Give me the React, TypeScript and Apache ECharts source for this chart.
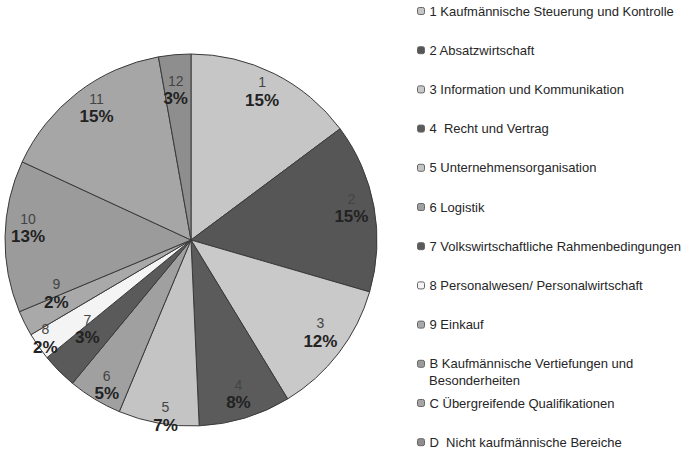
import React, { useEffect, useRef } from 'react';
import * as echarts from 'echarts';

// Legend categories (item 10 wraps onto a second line in the reference)
const categories = [
  '1 Kaufmännische Steuerung und Kontrolle',
  '2 Absatzwirtschaft',
  '3 Information und Kommunikation',
  '4  Recht und Vertrag',
  '5 Unternehmensorganisation',
  '6 Logistik',
  '7 Volkswirtschaftliche Rahmenbedingungen',
  '8 Personalwesen/ Personalwirtschaft',
  '9 Einkauf',
  'B Kaufmännische Vertiefungen und\nBesonderheiten',
  'C Übergreifende Qualifikationen',
  'D  Nicht kaufmännische Bereiche',
];

// Slice numbers shown inside the pie
const sliceLabels = ['1', '2', '3', '4', '5', '6', '7', '8', '9', '10', '11', '12'];

// Shares (percent); rounded they give the printed labels
const values = [14.8, 14.7, 11.8, 8.0, 7.0, 4.7, 3.1, 2.4, 2.2, 13.2, 15.3, 2.8];

const colors = [
  '#c6c6c6', '#565656', '#c9c9c9', '#5b5b5b', '#c4c4c4', '#a0a0a0',
  '#5a5a5a', '#f4f4f4', '#a9a9a9', '#9b9b9b', '#a6a6a6', '#8e8e8e',
];

// Small nudges of the in-slice labels (style only), as in the reference's best-fit placement
const labelNudges: [number, number][] = [
  [-2, -3], [0, -3], [0, -7], [0, -2], [3, 16], [0, 5],
  [12, -26], [-12, 5], [11, -20], [0, -9], [5, -3], [-1, 12],
];

const FONT = 'Arial, "Liberation Sans", Helvetica, sans-serif';

export default function App() {
  const ref = useRef<HTMLDivElement>(null);

  useEffect(() => {
    if (!ref.current) return;
    const chart = echarts.init(ref.current, undefined, { renderer: 'svg' });
    const center = [191, 240];
    const R = 186;

    const pieData = categories.map((name, i) => ({
      name,
      value: values[i],
      itemStyle: { color: colors[i] },
    }));
    const labelData = sliceLabels.map((name, i) => ({
      name,
      value: values[i],
      label: { offset: labelNudges[i] },
    }));

    const secondLine = categories
      .filter((c) => c.includes('\n'))
      .map((c) => c.split('\n')[1]);

    chart.setOption({
      animation: false,
      backgroundColor: '#ffffff',
      legend: {
        orient: 'vertical',
        left: 417,
        top: 4,
        padding: 0,
        itemGap: 25.2,
        itemWidth: 7,
        itemHeight: 7,
        icon: 'roundRect',
        selectedMode: false,
        data: categories,
        itemStyle: { borderColor: '#666', borderWidth: 1 },
        textStyle: {
          fontFamily: FONT,
          fontSize: 13,
          color: '#262626',
          lineHeight: 14,
        },
        formatter: (name: string) => name.split('\n')[0],
      },
      graphic: secondLine.map((t) => ({
        type: 'text',
        x: 429,
        y: 380,
        silent: true,
        style: {
          text: t,
          fontFamily: FONT,
          fontSize: 13,
          fill: '#262626',
          verticalAlign: 'middle',
        },
      })),
      series: [
        {
          type: 'pie',
          center,
          radius: [0, R],
          startAngle: 90,
          clockwise: true,
          avoidLabelOverlap: false,
          label: { show: false },
          labelLine: { show: false },
          emphasis: { disabled: true },
          itemStyle: { borderColor: '#3a3a3a', borderWidth: 1 },
          data: pieData,
          z: 2,
        },
        {
          type: 'pie',
          center,
          radius: [134, R],
          startAngle: 90,
          clockwise: true,
          silent: true,
          legendHoverLink: false,
          avoidLabelOverlap: false,
          itemStyle: { color: 'rgba(0,0,0,0)', borderWidth: 0 },
          emphasis: { disabled: true },
          labelLine: { show: false },
          labelLayout: { hideOverlap: false },
          label: {
            show: true,
            position: 'inside',
            formatter: (p: any) => `{n|${p.name}}\n{p|${Math.round(p.percent)}%}`,
            rich: {
              n: { fontFamily: FONT, fontSize: 14, color: '#444', lineHeight: 18 },
              p: { fontFamily: FONT, fontSize: 17, fontWeight: 'bold', color: '#222', lineHeight: 18 },
            },
          },
          data: labelData,
          z: 3,
        },
      ],
    });

    return () => chart.dispose();
  }, []);

  return (
    <div
      ref={ref}
      style={{ position: 'fixed', left: 0, top: 0, width: 686, height: 453 }}
    />
  );
}
